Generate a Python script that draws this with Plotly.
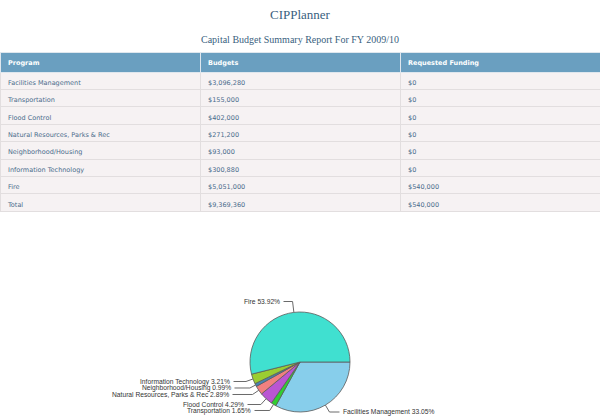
import math
import numpy as np
import plotly.graph_objects as go

# ---------------- data ----------------
programs = ["Facilities Management", "Transportation", "Flood Control",
            "Natural Resources, Parks & Rec", "Neighborhood/Housing",
            "Information Technology", "Fire"]
budgets = [3096280, 155000, 402000, 271200, 93000, 300880, 5051000]
requested = [0, 0, 0, 0, 0, 0, 540000]
pct_labels = [33.05, 1.65, 4.29, 2.89, 0.99, 3.21, 53.92]
table_headers = ["Program", "Budgets", "Requested Funding"]
slice_colors = ["#87ceeb", "#32cd32", "#ba55d3", "#f08080", "#4682b4", "#9acd32", "#40e0d0"]

W, H = 600, 419
NBSP = "\u00a0"

def fmt(v):
    return "${:,.0f}".format(v)

def esc(s):
    return s.replace("&", "&amp;")

# table cells: plain text (no markup characters) so that rows keep their height;
# any "&..." tail of a name is moved into the per-cell suffix (rendered as plain text)
prog_rows = programs + ["Total"]
col_prog, prog_suffix = [], []
for p in prog_rows:
    p = p.replace(" ", NBSP)
    if "&" in p:
        i = p.index("&")
        col_prog.append(p[:i])
        prog_suffix.append(p[i:])
    else:
        col_prog.append(p)
        prog_suffix.append("")
col_bud = [fmt(v) for v in budgets] + [fmt(sum(budgets))]
col_req = [fmt(v) for v in requested] + [fmt(sum(requested))]
n = len(prog_rows)
suffix_grid = np.array([prog_suffix, [""] * n, [""] * n], dtype="U")

fig = go.Figure()

# ---------------- table ----------------
fig.add_trace(go.Table(
    domain=dict(x=[0, 1], y=[1 - 260 / H, 1 - 52 / H]),
    columnwidth=[1, 1, 1],
    header=dict(values=[h.replace(" ", NBSP) for h in table_headers],
                fill_color="#6a9fc0", line=dict(color="#dfe7ee", width=1),
                align="left", height=20,
                font=dict(family="DejaVu Sans", size=6.5, color="white", weight="bold")),
    cells=dict(values=[col_prog, col_bud, col_req], suffix=suffix_grid,
               fill_color="#f6f2f3", line=dict(color="#e2dedf", width=1),
               align="left", height=17.4,
               font=dict(family="DejaVu Sans", size=6.5, color="#4a6c8c")),
))

# ---------------- pie ----------------
cx, cy, r = 300, 362, 50
fig.add_trace(go.Pie(
    labels=programs, values=budgets, sort=False, direction="clockwise",
    rotation=90, textinfo="none", hoverinfo="label+percent",
    marker=dict(colors=slice_colors, line=dict(color="#5a5a5a", width=0.8)),
    domain=dict(x=[(cx - r) / W, (cx + r) / W], y=[1 - (cy + r) / H, 1 - (cy - r) / H]),
    showlegend=False,
))

# label placement (layout): text anchor x (px), y (px), side
label_pos = {
    "Facilities Management": (341, 412, "left"),
    "Transportation": (253, 410.5, "right"),
    "Flood Control": (246, 404.5, "right"),
    "Natural Resources, Parks & Rec": (231, 394.5, "right"),
    "Neighborhood/Housing": (233, 388, "right"),
    "Information Technology": (232, 381.5, "right"),
    "Fire": (282, 301.5, "right"),
}

total = sum(budgets)
cum = 0.0
shapes = []
annotations = []
for name, v, pct in zip(programs, budgets, pct_labels):
    frac = v / total
    mid = (cum + frac / 2) * 2 * math.pi
    cum += frac
    dx, dy = math.cos(mid), math.sin(mid)
    ex, ey = cx + r * dx, cy + r * dy
    tx, ty, side = label_pos[name]
    t = (ty - ey) / dy if abs(dy) > 1e-6 else 8
    bx, by = ex + t * dx, ty
    endx = tx - 1.5 if side == "left" else tx + 1.5
    path = "M {:.4f},{:.4f} L {:.4f},{:.4f} L {:.4f},{:.4f}".format(
        ex / W, 1 - ey / H, bx / W, 1 - by / H, endx / W, 1 - by / H)
    shapes.append(dict(type="path", xref="paper", yref="paper", path=path,
                       line=dict(color="#6a6a6a", width=1)))
    annotations.append(dict(
        x=tx / W, y=1 - ty / H, xref="paper", yref="paper", showarrow=False,
        text="%s %.2f%%" % (esc(name), pct), xanchor=side, yanchor="middle",
        font=dict(family="Liberation Sans", size=6.7, color="#333333")))

annotations.append(dict(x=0.5, y=1 - 14 / H, xref="paper", yref="paper", showarrow=False,
                        text="CIPPlanner", xanchor="center", yanchor="middle",
                        font=dict(family="Liberation Serif", size=13, color="#3a5f80")))
annotations.append(dict(x=0.5, y=1 - 40 / H, xref="paper", yref="paper", showarrow=False,
                        text="Capital Budget Summary Report For FY 2009/10", xanchor="center",
                        yanchor="middle",
                        font=dict(family="Liberation Serif", size=10, color="#3a5f80")))

fig.update_layout(width=W, height=H, margin=dict(l=0, r=0, t=0, b=0),
                  paper_bgcolor="white", plot_bgcolor="white",
                  shapes=shapes, annotations=annotations)

fig.write_html("out.html", config={"displayModeBar": False},
               post_script="document.body.style.margin='0';")
